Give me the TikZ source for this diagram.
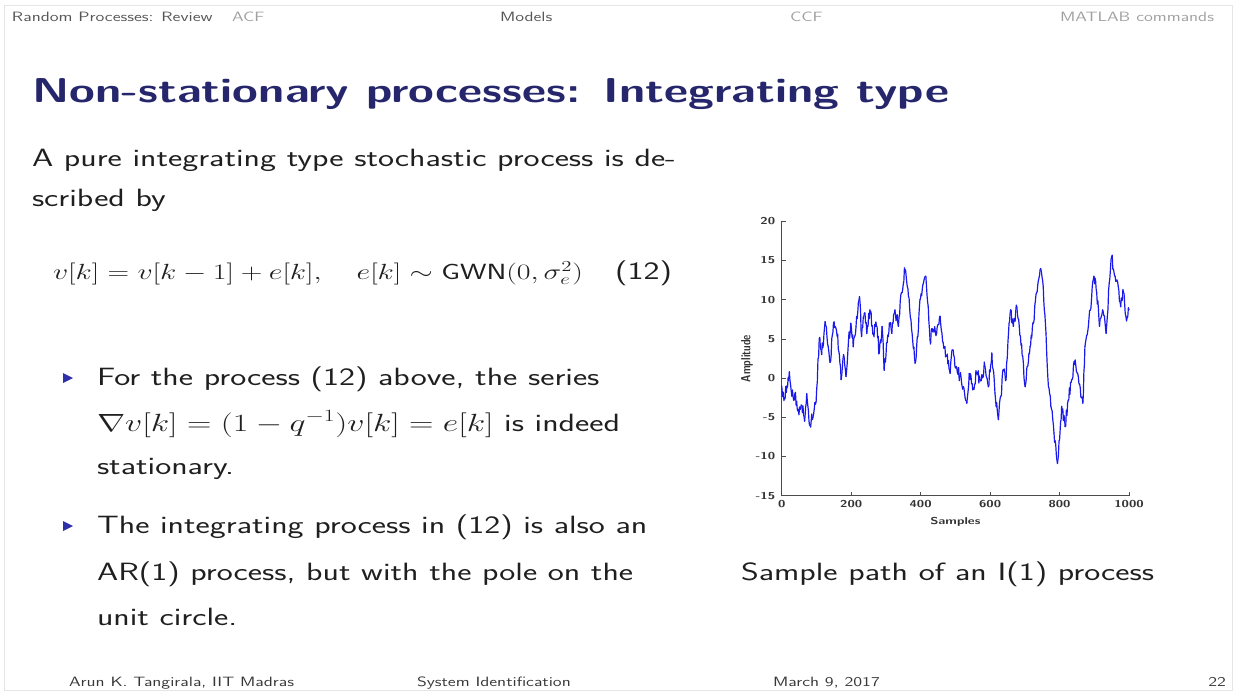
\documentclass[tikz,border=0pt]{standalone}
\usepackage{amsmath}
\usetikzlibrary{positioning}
\renewcommand{\familydefault}{\sfdefault}

\definecolor{titlenavy}{RGB}{38,38,108}
\definecolor{bulletblue}{RGB}{48,48,170}
\definecolor{navdark}{RGB}{85,85,85}
\definecolor{navlight}{RGB}{160,160,160}
\definecolor{footgray}{RGB}{55,55,55}
\definecolor{walkblue}{RGB}{25,25,235}

\tikzset{
  every node/.style={inner sep=0pt, outer sep=0pt},
  wide/.style={xscale=1.36},
  nav/.style={xscale=1.333, anchor=base west, font=\fontsize{13.5}{16}\selectfont},
  nadpis/.style={wide, anchor=base west, text=titlenavy, font=\fontsize{34.5}{40}\selectfont\bfseries},
  txt/.style={wide, anchor=base west, text=black!88, font=\fontsize{25}{30}\selectfont},
  rovnice/.style={scale=1.06, wide, anchor=base west, text=black!88, font=\fontsize{20.74}{25}\selectfont},
  tick/.style={xscale=1.333, text=black!80, font=\fontsize{10}{12}\selectfont\bfseries},
  osa/.style={black!70, line width=0.6pt},
  walk/.style={walkblue, line width=1.2pt, line join=round, line cap=round},
}

\begin{document}
\begin{tikzpicture}[x=1pt, y=1pt]
        \useasboundingbox (0,0) rectangle (1236,-693);
        \draw[black!10, line width=0.8pt] (4,-5) rectangle (1232,-690);

        % záhlaví
        \node[nav, text=navdark] (H1) at (12,-22) {Random Processes: Review};
        \node[nav, text=navlight] (H2) at (232,-22) {ACF};
        \node[nav, text=navdark] (H3) at (500,-22) {Models};
        \node[nav, text=navlight] (H4) at (790,-22) {CCF};
        \node[nav, text=navlight, anchor=base east] (H5) at (1214,-22) {MATLAB commands};

        % nadpis
        \node[nadpis] (T) at (32,-102) {Non-stationary processes: Integrating type};

        % text
        \node[txt] (L1) at (32,-166) {A pure integrating type stochastic process is de-};
        \node[txt] (L2) at (32,-206) {scribed by};
        \node[rovnice] (EQ) at (53,-279) {$v[k] = v[k-1] + e[k], \quad e[k] \sim \text{GWN}(0,\sigma_e^2)$};
        \node[txt, anchor=base east] (EQN) at (672,-279) {(12)};

        % odrážky
        \fill[bulletblue] (63,-373) coordinate (B1) -- (73,-378) -- (63,-383) -- cycle;
        \node[txt] (P1) at (97,-385) {For the process (12) above, the series};
        \node[txt] (P2) at (97,-431) {$\nabla v[k] = (1-q^{-1})v[k] = e[k]$ is indeed};
        \node[txt] (P3) at (97,-474) {stationary.};
        \fill[bulletblue] (63,-521) coordinate (B2) -- (73,-526) -- (63,-531) -- cycle;
        \node[txt] (P4) at (97,-533) {The integrating process in (12) is also an};
        \node[txt] (P5) at (97,-580) {AR(1) process, but with the pole on the};
        \node[txt] (P6) at (97,-625) {unit circle.};

        % graf
        \begin{scope}[shift={(781.7,-378.1)}, x=0.3473pt, y=7.84pt]
            \draw[osa] (0,20) coordinate (YT) -- (0,-15) coordinate (O) -- (1000,-15) coordinate (XR);
            \foreach \yv [count=\k] in {-15,-10,...,20} {
                \draw[osa] (0,\yv) -- (11,\yv);
                \node[tick, anchor=east] (Y\k) at (-19,\yv) {\yv};
            }
            \foreach \xv [count=\k] in {0,200,...,1000} {
                \draw[osa] (\xv,-15) -- (\xv,-14.5);
                \node[tick, anchor=north] (X\k) at (\xv,-15.6) {\xv};
            }
            \node[tick, rotate=90] (AMP) at (-100,2.5) {Amplitude};
            \node[tick, anchor=north] (SMP) at (500,-17.8) {Samples};

            \pgfmathsetseed{17}
            \foreach \sa/\va [remember=\sa as \sp (initially 0), remember=\va as \vp (initially -1)] in
                {8/-2.5, 15/-1, 22/0.8, 29/-2.3, 38/-2, 48/-4, 58/-3.5, 66/-5.5, 72/-2, 80/-6, 90/-5,
                 99/-3, 108/5, 115/3, 125/7.2, 134/4, 139/2, 149/7, 158/6, 166/3, 171/-0.2, 178/3,
                 185/0.2, 192/4.5, 199/7, 206/4, 214/6.6, 224/10.4, 230/5.3, 238/8.3, 245/5.7, 254/8.7,
                 264/5.7, 273/6.6, 281/3.2, 289/6.6, 295/1, 302/4.5, 310/7, 317/5.7, 326/8.7, 336/6.6,
                 345/10.9, 355/13.8, 365/10.4, 374/6.2, 384/1.9, 392/5.3, 398/10, 408/12.1, 415/13,
                 422/9.1, 427/4.9, 437/6.2, 446/5.7, 456/7.9, 465/4.5, 475/2.8, 485/0.6, 492/3.6,
                 502/1.5, 513/0.2, 523/-1.1, 533/-3.2, 540/0.6, 550/-1.5, 561/0.6, 571/-0.2, 585/1.5,
                 595/-1.1, 605/3.2, 614/-1.9, 624/-5.3, 631/-2.3, 638/1.1, 646/-0.2, 653/5.7, 659/8.7,
                 667/6.6, 677/9.1, 684/6.6, 694/2.8, 701/-1.1, 707/1.5, 715/4, 725/7, 734/10.9,
                 744/13.8, 753/11.7, 761/5.7, 768/-1.1, 775/-3.6, 784/-7, 794/-10.9, 800/-7.9,
                 806/-3.6, 816/-6.2, 825/-2.8, 835/-0.2, 845/2.3, 854/0.2, 867/-3.2, 873/4, 883/6.6,
                 892/10, 899/13, 907/10.9, 915/6.6, 924/8.7, 934/5.7, 943/12.1, 950/15.5, 960/13,
                 969/11.7, 976/9.1, 984/10.9, 991/7.9, 1000/8.7} {
                \pgfmathtruncatemacro{\nstep}{(\sa-(\sp))/2}
                \draw[walk] (\sp,\vp) foreach \i in {1,...,\nstep} {
                    -- ({\sp+(\sa-(\sp))*\i/(\nstep+1)}, {\vp+(\va-(\vp))*\i/(\nstep+1)+0.8*rand})
                } -- (\sa,\va);
            }
        \end{scope}

        \node[txt] (CAP) at (741,-580) {Sample path of an I(1) process};

        % zápatí
        \node[nav, text=footgray] (F1) at (69,-686) {Arun K. Tangirala, IIT Madras};
        \node[nav, text=footgray] (F2) at (417,-686) {System Identification};
        \node[nav, text=footgray] (F3) at (773,-686) {March 9, 2017};
        \node[nav, text=footgray, anchor=base east] (F4) at (1226,-686) {22};

    \end{tikzpicture}
\end{document}
